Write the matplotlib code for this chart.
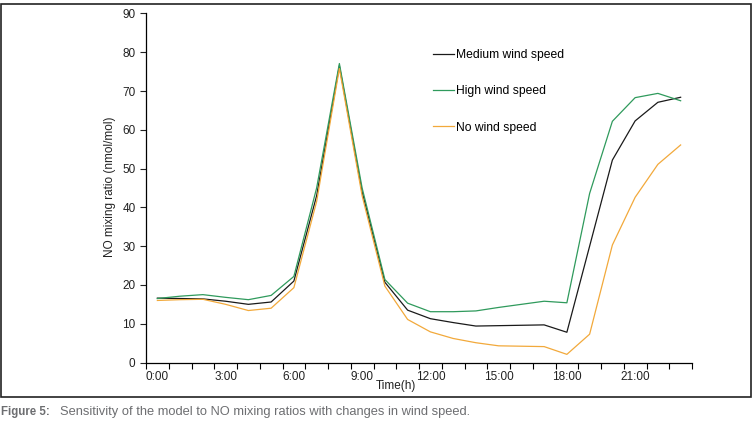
import numpy as np
import matplotlib
matplotlib.use('Agg')
import matplotlib.pyplot as plt
from matplotlib.patches import Rectangle

plt.rcParams['font.family'] = ['Liberation Sans Narrow', 'Liberation Sans', 'DejaVu Sans']

# Hourly NO mixing ratios (nmol/mol), 0:00 .. 23:00
hours = np.arange(24)
tick_labels = ['0:00', '3:00', '6:00', '9:00', '12:00', '15:00', '18:00', '21:00']
medium = [16.6, 16.5, 16.4, 15.8, 15.0, 15.6, 21.0, 43.0, 76.5, 44.0, 20.7, 13.5,
          11.3, 10.3, 9.4, 9.5, 9.6, 9.7, 7.8, 30.0, 52.2, 62.3, 67.1, 68.4]
high = [16.5, 17.1, 17.5, 16.8, 16.2, 17.3, 22.2, 45.0, 77.1, 45.0, 21.4, 15.3,
        13.1, 13.1, 13.3, 14.2, 15.0, 15.8, 15.4, 43.6, 62.2, 68.3, 69.4, 67.5]
no_wind = [16.0, 16.2, 16.3, 15.0, 13.4, 14.0, 19.3, 41.5, 75.8, 43.0, 19.7, 11.1,
           7.9, 6.2, 5.1, 4.3, 4.2, 4.1, 2.1, 7.3, 30.3, 42.6, 51.1, 56.1]

fig = plt.figure(figsize=(7.52, 4.23), dpi=100)
ax = fig.add_axes([146 / 752, 60.5 / 423, 546 / 752, 349 / 423])

ax.plot(hours, medium, color='#1a1a1a', lw=0.9, label='Medium wind speed')
ax.plot(hours, high, color='#2f9a5c', lw=0.9, label='High wind speed')
ax.plot(hours, no_wind, color='#f2a93b', lw=0.9, label='No wind speed')

ax.set_xlim(-0.5, 23.5)
ax.set_ylim(0, 90)
ax.set_yticks(np.arange(0, 91, 10))

# category style axis: ticks between hours, labels at hours
ax.set_xticks(np.arange(-0.5, 24, 1))
ax.set_xticklabels([])
ax.set_xticks(np.arange(0, 24, 3), minor=True)
ax.set_xticklabels(tick_labels, minor=True)
ax.tick_params(axis='x', which='major', direction='out', length=4, width=0.8)
ax.tick_params(axis='x', which='minor', length=0, pad=6, labelsize=8.5, colors='#222222')
ax.tick_params(axis='y', direction='out', length=4, width=0.8, labelsize=8.5, colors='#222222')
for s in ['top', 'right']:
    ax.spines[s].set_visible(False)
for s in ['left', 'bottom']:
    ax.spines[s].set_linewidth(0.9)

ax.legend(loc='upper left', bbox_to_anchor=(0.514, 0.915), frameon=False,
          handlelength=1.8, handletextpad=0.1, labelspacing=2.0, borderpad=0,
          fontsize=8.7)

fig.text(110 / 752, 1 - 187 / 423, 'NO mixing ratio (nmol/mol)', rotation=90,
         ha='center', va='center', fontsize=8.5, color='#222222')
fig.text(396 / 752, 1 - 386 / 423, 'Time(h)', ha='center', va='center',
         fontsize=8.5, color='#222222')

# border frame around the figure
fig.patches.append(Rectangle((0.5 / 752, 26 / 423), 750.5 / 752, 393 / 423,
                             transform=fig.transFigure, fill=False,
                             edgecolor='#222222', lw=1.2))

fig.text(1 / 752, 1 - 412 / 423, 'Figure 5:', ha='left', va='center',
         fontsize=8.3, fontweight='bold', color='#6d6e71')
fig.text(60 / 752, 1 - 412 / 423,
         'Sensitivity of the model to NO mixing ratios with changes in wind speed.',
         ha='left', va='center', fontsize=9.3, color='#6d6e71')

fig.savefig('out.png', dpi=100)
